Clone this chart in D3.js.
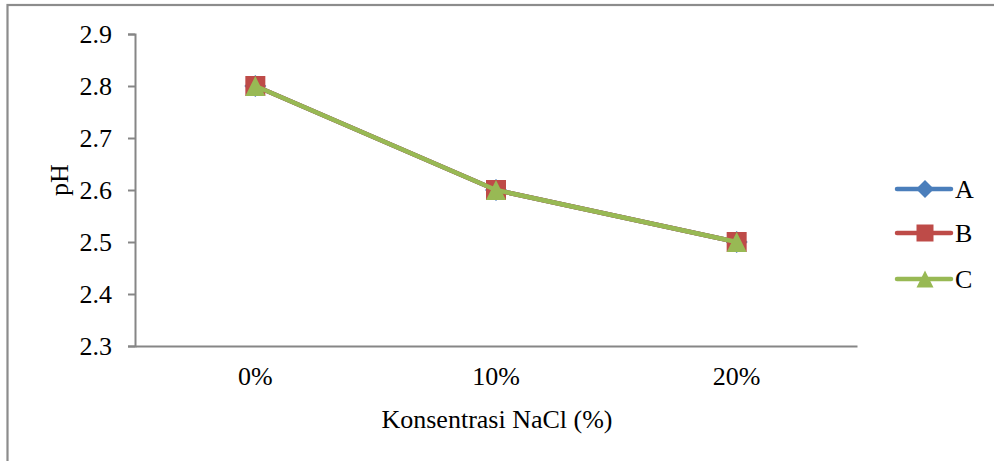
<!DOCTYPE html>
<html>
<head>
<meta charset="utf-8">
<script src="https://cdn.jsdelivr.net/npm/d3@7/dist/d3.min.js"></script>
<style>
  html, body { margin: 0; padding: 0; background: #fff; }
  svg { display: block; }
  text { font-family: "Liberation Serif", "Times New Roman", serif; fill: #000; }
</style>
</head>
<body>
<svg id="chart" width="994" height="461"></svg>
<script>
// Konsentrasi NaCl vs pH
const categories = ["0%", "10%", "20%"];
const seriesNames = ["A", "B", "C"];
const valuesA = [2.8, 2.6, 2.5];
const valuesB = [2.8, 2.6, 2.5];
const valuesC = [2.8, 2.6, 2.5];
const yTicks = [2.3, 2.4, 2.5, 2.6, 2.7, 2.8, 2.9];
const xTitle = "Konsentrasi NaCl (%)";
const yTitle = "pH";

const series = [
  { name: seriesNames[0], values: valuesA, color: "#4A7EBB", shape: "diamond" },
  { name: seriesNames[1], values: valuesB, color: "#BE4B48", shape: "square" },
  { name: seriesNames[2], values: valuesC, color: "#98B954", shape: "triangle" }
];

const svg = d3.select("#chart");
const plot = { left: 135, right: 857, top: 34, bottom: 346 };
const axisColor = "#868686";
const fontSize = 26;

// outer chart frame
svg.append("rect")
  .attr("x", 7.5).attr("y", 5)
  .attr("width", 1000).attr("height", 500)
  .attr("fill", "none")
  .attr("stroke", "#8c8c8c")
  .attr("stroke-width", 2.2);

const x = d3.scaleBand().domain(categories).range([plot.left, plot.right]);
const y = d3.scaleLinear().domain([2.3, 2.9]).range([plot.bottom, plot.top]);

// y axis
const yAxis = svg.append("g")
  .attr("transform", `translate(${plot.left},0)`)
  .call(d3.axisLeft(y).tickValues(yTicks).tickFormat(d3.format(".1f")).tickSize(7).tickPadding(16));
yAxis.select(".domain").attr("stroke", axisColor).attr("stroke-width", 2);
yAxis.selectAll(".tick line").attr("stroke", axisColor).attr("stroke-width", 2);
yAxis.selectAll(".tick text")
  .attr("font-size", fontSize)
  .attr("fill", "#000");

// x axis
const xAxis = svg.append("g")
  .attr("transform", `translate(0,${plot.bottom})`)
  .call(d3.axisBottom(x).tickSize(0).tickPadding(21));
xAxis.select(".domain").attr("stroke", axisColor).attr("stroke-width", 2);
xAxis.selectAll(".tick text")
  .attr("font-size", fontSize)
  .attr("fill", "#000");

// axis titles
svg.append("text")
  .attr("x", 497).attr("y", 428)
  .attr("text-anchor", "middle")
  .attr("font-size", fontSize)
  .text(xTitle);

svg.append("text")
  .attr("transform", "translate(68,180) rotate(-90)")
  .attr("text-anchor", "middle")
  .attr("font-size", fontSize)
  .text(yTitle);

// marker shapes
function markerPath(shape, s) {
  if (shape === "diamond") {
    return `M0,${-s/2}L${s/2},0L0,${s/2}L${-s/2},0Z`;
  }
  if (shape === "square") {
    return `M${-s/2},${-s/2}H${s/2}V${s/2}H${-s/2}Z`;
  }
  const h = s;
  return `M0,${-h/2}L${s/2},${h/2}L${-s/2},${h/2}Z`;
}

const cx = c => x(c) + x.bandwidth() / 2;
const line = d3.line().x((d, i) => cx(categories[i])).y(d => y(d));

series.forEach(s => {
  const g = svg.append("g");
  g.append("path")
    .attr("d", line(s.values))
    .attr("fill", "none")
    .attr("stroke", s.color)
    .attr("stroke-width", 4.5)
    .attr("stroke-linejoin", "round")
    .attr("stroke-linecap", "round");
  g.selectAll("path.m")
    .data(s.values)
    .join("path")
    .attr("class", "m")
    .attr("transform", (d, i) => `translate(${cx(categories[i])},${y(d)})`)
    .attr("d", markerPath(s.shape, s.shape === "diamond" ? 22 : 20))
    .attr("fill", s.color);
});

// legend
const legend = svg.append("g");
const legendY = [189, 233, 279];
series.forEach((s, i) => {
  const g = legend.append("g").attr("transform", `translate(0,${legendY[i]})`);
  g.append("line")
    .attr("x1", 897).attr("x2", 951)
    .attr("y1", 0).attr("y2", 0)
    .attr("stroke", s.color)
    .attr("stroke-width", 4.5)
    .attr("stroke-linecap", "round");
  g.append("path")
    .attr("transform", "translate(925,0)")
    .attr("d", markerPath(s.shape, s.shape === "diamond" ? 18 : 17))
    .attr("fill", s.color);
  g.append("text")
    .attr("x", 955).attr("y", 0)
    .attr("dy", "0.35em")
    .attr("font-size", fontSize)
    .text(s.name);
});
</script>
</body>
</html>
